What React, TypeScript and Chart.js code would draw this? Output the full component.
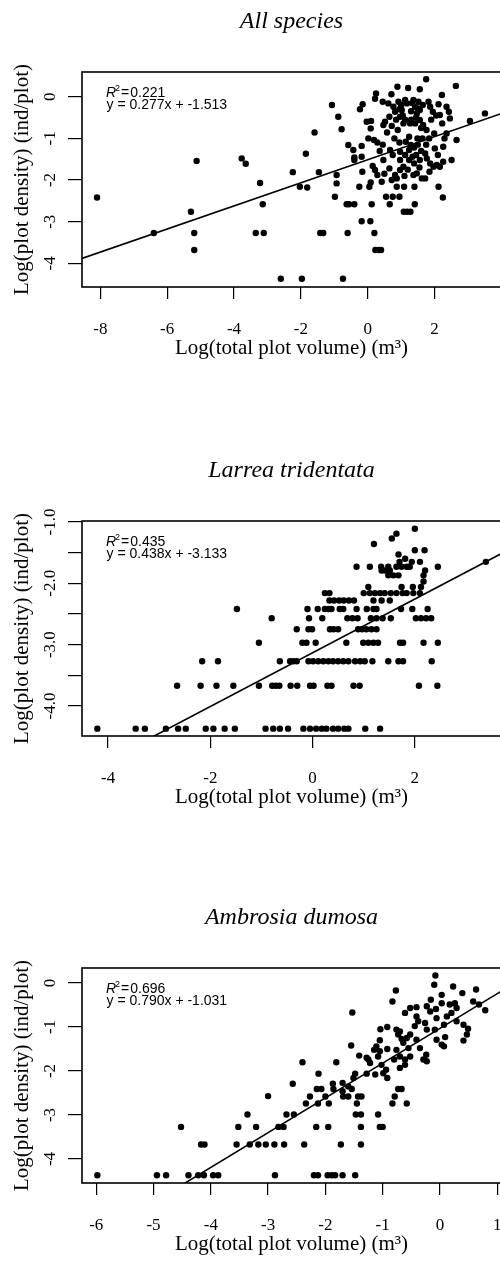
import React, { useEffect, useRef } from "react";
import { Chart, registerables } from "chart.js";

Chart.register(...registerables);

const SERIF = "'Liberation Serif', 'Times New Roman', Times, serif";
const SANS = "'Liberation Sans', Arial, Helvetica, sans-serif";

// ---------- DATA ----------
const panelTitles = ["All species", "Larrea tridentata", "Ambrosia dumosa"];
const xAxisTitle = "Log(total plot volume) (m\u00B3)";
const yAxisTitle = "Log(plot density) (ind/plot)";

const allSpeciesPoints: [number, number][] = [
  [-8.1, -2.42], [-6.4, -3.27], [-5.29, -2.76], [-5.19, -3.27], [-5.19, -3.68], [-5.12, -1.54],
  [-3.77, -1.48], [-3.65, -1.61], [-3.22, -2.07], [-3.14, -2.58], [-3.35, -3.27], [-3.11, -3.27],
  [-2.6, -4.37], [-2.24, -1.81], [-1.97, -4.37], [-1.42, -3.27], [-1.33, -3.27], [-0.74, -4.37],
  [-0.6, -3.27], [-0.18, -2.99], [0.08, -2.99], [0.2, -3.27], [0.23, -3.68], [0.33, -3.68], [0.4, -3.68],
  [1.08, -2.76], [1.18, -2.76], [1.28, -2.76],
  [1.75, 0.42], [0.89, 0.24], [1.21, 0.21], [1.56, 0.18], [2.64, 0.26], [0.25, 0.08], [0.22, -0.05],
  [0.71, 0.06], [0.45, -0.12], [-0.15, -0.18], [-0.23, -0.3], [-1.07, -0.2], [-0.88, -0.48], [-0.78, -0.78],
  [-1.59, -0.86], [-1.85, -1.37], [-1.46, -1.81], [-2.03, -2.16], [-1.81, -2.18], [-0.93, -1.88],
  [-0.93, -2.08], [-0.98, -2.4], [-0.58, -1.16], [-0.43, -1.28], [-0.4, -1.46], [-0.4, -1.52],
  [-0.18, -1.44], [-0.18, -1.18], [-0.16, -1.8], [-0.03, -0.6], [0.1, -0.58], [0.09, -0.76], [0.02, -1.0],
  [0.19, -1.04], [0.29, -1.1], [0.15, -1.66], [0.22, -1.76], [0.29, -1.88], [0.09, -2.06], [0.42, -2.04],
  [0.47, -1.52], [0.65, -1.72], [0.75, -1.4], [0.67, -1.28], [0.47, -0.68], [0.52, -0.6], [0.65, -0.48],
  [0.62, -0.16], [0.77, -0.24], [0.92, -0.12], [0.82, -0.36], [0.97, -0.48], [1.02, -0.32], [1.17, -0.16],
  [1.37, -0.08], [1.52, -0.12], [1.42, -0.24], [1.56, -0.32], [1.47, -0.4], [1.07, -0.64], [1.27, -0.64],
  [1.42, -0.64], [1.56, -0.56], [1.66, -0.68], [1.82, -0.12], [1.87, -0.24], [2.12, -0.18], [2.22, 0.04],
  [2.16, -0.44], [2.36, -0.24], [2.43, -0.36], [2.46, -0.52], [2.23, -0.64], [2.36, -0.88], [2.66, -1.04],
  [3.06, -0.58], [3.51, -0.4], [1.99, -0.88], [1.84, -1.0], [1.64, -1.0], [1.49, -1.0], [1.24, -0.96],
  [1.14, -1.08], [1.29, -1.16], [1.39, -1.22], [1.24, -1.28], [1.12, -1.4], [0.97, -1.32], [0.97, -1.52],
  [1.07, -1.68], [1.24, -1.52], [1.34, -1.44], [1.39, -1.6], [1.56, -1.52], [1.72, -1.36], [1.77, -1.48],
  [1.87, -1.6], [1.97, -1.68], [2.07, -1.64], [2.16, -1.68], [2.26, -1.56], [2.51, -1.52], [2.26, -1.2],
  [2.01, -1.24], [1.47, -1.84], [1.62, -1.96], [1.72, -1.96], [1.37, -1.88], [0.82, -1.88], [0.72, -2.0],
  [0.87, -1.96], [0.97, -1.76], [0.87, -2.16], [1.09, -2.16], [1.4, -2.16], [2.12, -2.16], [2.25, -2.42],
  [0.55, -2.4], [0.75, -2.4], [0.95, -2.4], [-0.63, -2.58], [-0.56, -2.58], [-0.4, -2.58], [0.12, -2.58],
  [0.66, -2.58], [1.41, -2.58], [0.05, -2.16], [-0.25, -2.16],
  [1.0, -0.2], [1.05, -0.45], [1.12, -0.55], [1.3, -0.55], [1.45, -0.5], [1.5, -0.28], [1.33, -0.15],
  [1.12, -0.08], [0.95, -0.3], [0.85, -0.55], [0.72, -0.7], [0.9, -0.8], [1.6, -0.75], [1.76, -0.8],
  [1.9, -0.55], [1.95, -0.36], [0.58, -0.86], [0.8, -1.0], [0.95, -1.1], [1.5, -1.15], [1.75, -1.15],
  [1.6, -1.3], [1.45, -1.4], [1.2, -1.75], [1.55, -1.7], [1.85, -1.8], [1.1, -1.9], [0.5, -1.85],
  [0.36, -1.3], [0.45, -1.15], [2.3, -1.0], [2.1, -1.4], [2.05, -0.45], [1.3, -0.35], [1.65, -0.2],
];

const larreaPoints: [number, number][] = [
  [-4.21, -4.37], [-3.46, -4.37], [-3.28, -4.37], [-2.87, -4.37], [-2.63, -4.37], [-2.48, -4.37],
  [-2.09, -4.37], [-1.94, -4.37], [-1.72, -4.37], [-1.52, -4.37], [-0.92, -4.37], [-0.77, -4.37],
  [-0.64, -4.37], [-0.48, -4.37], [-0.18, -4.37], [-0.05, -4.37], [0.07, -4.37], [0.18, -4.37],
  [0.27, -4.37], [0.4, -4.37], [0.5, -4.37], [0.62, -4.37], [0.7, -4.37], [1.03, -4.37], [1.32, -4.37],
  [-2.65, -3.67], [-2.19, -3.67], [-1.88, -3.67], [-1.55, -3.67], [-1.05, -3.67], [-0.79, -3.67],
  [-0.72, -3.67], [-0.65, -3.67], [-0.43, -3.67], [-0.3, -3.67], [-0.05, -3.67], [0.02, -3.67],
  [0.29, -3.67], [0.37, -3.67], [0.8, -3.67], [0.92, -3.67], [2.08, -3.67], [2.44, -3.67],
  [-2.16, -3.27], [-1.85, -3.27], [-0.64, -3.27], [-0.44, -3.27], [-0.38, -3.27], [-0.31, -3.27],
  [-0.08, -3.27], [0.01, -3.27], [0.11, -3.27], [0.21, -3.27], [0.31, -3.27], [0.4, -3.27], [0.5, -3.27],
  [0.6, -3.27], [0.7, -3.27], [0.83, -3.27], [0.93, -3.27], [1.02, -3.27], [1.17, -3.27], [1.48, -3.27],
  [1.68, -3.27], [1.77, -3.27], [2.33, -3.27],
  [-1.05, -2.97], [-0.2, -2.97], [-0.12, -2.97], [0.06, -2.97], [0.66, -2.97], [0.99, -2.97],
  [1.09, -2.97], [1.19, -2.97], [1.28, -2.97], [1.71, -2.97], [1.77, -2.97], [2.17, -2.97], [2.45, -2.97],
  [-0.31, -2.75], [-0.08, -2.75], [-0.01, -2.75], [0.34, -2.75], [0.41, -2.75], [0.5, -2.75],
  [0.89, -2.75], [0.97, -2.75], [1.05, -2.75], [1.15, -2.75], [1.25, -2.75],
  [-0.8, -2.57], [-0.07, -2.57], [0.19, -2.57], [0.68, -2.57], [0.78, -2.57], [0.88, -2.57],
  [1.14, -2.57], [1.25, -2.57], [1.37, -2.57], [1.53, -2.57], [2.02, -2.57], [2.12, -2.57],
  [2.22, -2.57], [2.32, -2.57],
  [-1.48, -2.42], [-0.1, -2.42], [0.1, -2.42], [0.24, -2.42], [0.31, -2.42], [0.37, -2.42], [0.53, -2.42],
  [0.6, -2.42], [0.86, -2.42], [1.06, -2.42], [1.19, -2.42], [1.25, -2.42], [1.73, -2.42], [1.95, -2.42],
  [2.25, -2.42],
  [0.33, -2.28], [0.42, -2.28], [0.52, -2.28], [0.61, -2.28], [0.71, -2.28], [0.81, -2.28], [1.19, -2.28],
  [1.35, -2.28], [1.51, -2.28],
  [0.24, -2.16], [0.33, -2.16], [1.0, -2.16], [1.12, -2.16], [1.22, -2.16], [1.32, -2.16], [1.41, -2.16],
  [1.53, -2.16], [1.64, -2.16], [1.76, -2.16], [1.84, -2.16], [1.97, -2.16], [2.1, -2.16],
  [1.09, -2.06], [1.74, -2.06], [1.96, -2.06], [2.12, -2.06], [2.17, -1.97],
  [1.48, -1.87], [1.58, -1.87], [1.68, -1.87], [2.17, -1.87],
  [1.35, -1.79], [1.42, -1.79], [1.51, -1.79], [2.2, -1.79],
  [0.86, -1.73], [1.12, -1.73], [1.34, -1.73], [1.48, -1.73], [1.64, -1.73], [1.74, -1.73], [1.84, -1.73],
  [1.9, -1.73], [2.45, -1.73],
  [1.7, -1.65], [1.94, -1.65], [2.1, -1.65], [3.39, -1.65], [1.81, -1.6], [1.68, -1.53],
  [2.0, -1.46], [2.19, -1.46], [1.2, -1.36], [1.55, -1.27], [1.64, -1.19], [2.0, -1.11],
];

const ambrosiaPoints: [number, number][] = [
  [-0.08, 0.17], [-0.1, -0.04], [0.23, -0.08], [0.63, -0.15], [0.39, -0.23], [0.03, -0.27], [-0.16, -0.38],
  [-0.77, -0.17], [-0.83, -0.42], [-1.53, -0.67], [0.58, -0.42], [0.68, -0.49], [0.79, -0.62], [0.03, -0.46],
  [0.17, -0.49], [0.26, -0.46], [0.29, -0.57], [0.2, -0.68], [0.12, -0.76], [-0.07, -0.59], [-0.17, -0.65],
  [-0.23, -0.53], [-0.06, -0.8], [0.07, -0.95], [-0.41, -0.55], [-0.52, -0.57], [-0.61, -0.68], [-0.41, -0.76],
  [-0.38, -0.87], [-0.44, -0.98], [-0.26, -0.91], [-0.23, -1.06], [-0.09, -1.06], [0.29, -0.87], [0.41, -0.95],
  [0.49, -1.04], [0.47, -1.17], [0.41, -1.31], [0.09, -1.23], [-0.06, -1.29], [0.03, -1.4], [0.07, -1.44],
  [-1.04, -1.05], [-0.92, -1.0], [-0.76, -1.06], [-0.73, -1.17], [-0.67, -1.27], [-0.58, -1.25], [-0.52, -1.17],
  [-0.7, -1.1], [-0.64, -1.36], [-0.55, -1.48], [-0.41, -1.29], [-0.35, -1.48], [-0.24, -1.63], [-0.29, -1.74],
  [-0.23, -1.78], [-1.05, -1.3], [-1.11, -1.44], [-1.15, -1.52], [-1.05, -1.55], [-1.08, -1.67], [-0.92, -1.5],
  [-0.76, -1.52], [-0.7, -1.67], [-0.61, -1.74], [-0.61, -1.86], [-0.7, -1.93], [-0.52, -1.67], [-0.8, -1.74],
  [-1.55, -1.42], [-1.41, -1.65], [-1.25, -1.74], [-1.22, -1.82], [-1.28, -1.7], [-1.81, -1.8], [-2.4, -1.8],
  [-1.02, -1.86], [-0.94, -1.97], [-0.99, -2.05], [-0.92, -2.16], [-1.13, -2.08], [-1.28, -2.06], [-1.48, -2.06],
  [-1.51, -2.16], [-1.7, -2.27], [-1.6, -2.35], [-1.87, -2.29], [-2.12, -2.06], [-2.07, -2.41], [-2.15, -2.41],
  [-1.54, -2.41], [-1.86, -2.41], [-1.7, -2.46], [-2.27, -2.58], [-2.0, -2.58], [-1.69, -2.58], [-1.6, -2.58],
  [-1.43, -2.58], [-1.37, -2.58], [-0.79, -2.58], [-0.73, -2.41], [-0.67, -2.41], [-3.0, -2.57], [-2.57, -2.29],
  [-5.98, -4.37], [-4.94, -4.37], [-4.78, -4.37], [-4.39, -4.37], [-4.22, -4.37], [-4.12, -4.37], [-3.96, -4.37],
  [-3.87, -4.37], [-2.88, -4.37], [-2.2, -4.37], [-2.13, -4.37], [-1.96, -4.37], [-1.89, -4.37], [-1.83, -4.37],
  [-1.7, -4.37], [-1.48, -4.37],
  [-4.17, -3.67], [-4.11, -3.67], [-3.55, -3.67], [-3.32, -3.67], [-3.17, -3.67], [-3.04, -3.67], [-2.89, -3.67],
  [-2.72, -3.67], [-2.37, -3.67], [-1.73, -3.67], [-1.38, -3.67],
  [-4.52, -3.27], [-3.52, -3.27], [-3.21, -3.27], [-2.82, -3.27], [-2.73, -3.27], [-2.16, -3.27], [-1.95, -3.27],
  [-1.38, -3.27], [-1.05, -3.27], [-1.0, -3.27],
  [-3.36, -2.99], [-2.68, -2.99], [-2.55, -2.99], [-1.47, -2.99], [-1.38, -2.99], [-1.08, -2.99],
  [-2.34, -2.74], [-2.13, -2.74], [-1.94, -2.74], [-1.45, -2.74], [-0.83, -2.74], [-0.58, -2.74],
];

const allSpeciesFit = { slope: 0.277, intercept: -1.513, r2: "0.221" };
const larreaFit = { slope: 0.438, intercept: -3.133, r2: "0.435" };
const ambrosiaFit = { slope: 0.79, intercept: -1.031, r2: "0.696" };

const allSpeciesXTicks = [-8, -6, -4, -2, 0, 2];
const allSpeciesYTicks = [0, -1, -2, -3, -4];
const allSpeciesYLabels = ["0", "-1", "-2", "-3", "-4"];
const larreaXTicks = [-4, -2, 0, 2];
const larreaYTicks = [-1.0, -1.5, -2.0, -2.5, -3.0, -3.5, -4.0];
const larreaYLabels = ["-1.0", "", "-2.0", "", "-3.0", "", "-4.0"];
const ambrosiaXTicks = [-6, -5, -4, -3, -2, -1, 0, 1];
const ambrosiaYTicks = [0, -1, -2, -3, -4];
const ambrosiaYLabels = ["0", "-1", "-2", "-3", "-4"];

// ---------- LAYOUT ----------
const CW = 510;
const CH = 448;
const AREA_TOP = 72;
const AREA_BOTTOM = 287;
const AREA_LEFT = 82;
const AREA_RIGHT = 501;
const X_SCALE_H = 74;

type PanelProps = {
  title: string;
  points: [number, number][];
  fit: { slope: number; intercept: number; r2: string };
  xTicks: number[];
  yTicks: number[];
  yLabels: string[];
  xRange: [number, number];
  yRange: [number, number];
  top: number;
};

function Panel(props: PanelProps) {
  const ref = useRef<HTMLCanvasElement | null>(null);
  useEffect(() => {
    const canvas = ref.current;
    if (!canvas) return;
    const { title, points, fit, xTicks, yTicks, yLabels, xRange, yRange } = props;
    const f = (x: number) => fit.slope * x + fit.intercept;

    const boxPlugin = {
      id: "boxFrame",
      afterDatasetsDraw(chart: any) {
        const { ctx, chartArea: a } = chart;
        ctx.save();
        ctx.strokeStyle = "#000";
        ctx.lineWidth = 1.6;
        ctx.strokeRect(a.left, a.top, a.right - a.left, a.bottom - a.top);
        ctx.restore();
      },
    };

    const yLabelPlugin = {
      id: "yRotLabels",
      afterDraw(chart: any) {
        const s = chart.scales.y;
        const ctx = chart.ctx;
        const cx = chart.chartArea.left - 31.5;
        ctx.save();
        ctx.fillStyle = "#000";
        ctx.font = `17px ${SERIF}`;
        ctx.textAlign = "center";
        ctx.textBaseline = "middle";
        yTicks.forEach((v, i) => {
          const lab = yLabels[i];
          if (!lab) return;
          const py = s.getPixelForValue(v);
          ctx.save();
          ctx.translate(cx, py);
          ctx.rotate(-Math.PI / 2);
          ctx.fillText(lab, 0, 0);
          ctx.restore();
        });
        ctx.restore();
      },
    };

    const annotationPlugin = {
      id: "fitText",
      afterDraw(chart: any) {
        const { ctx, chartArea: a } = chart;
        ctx.save();
        ctx.fillStyle = "#000";
        ctx.textAlign = "left";
        ctx.textBaseline = "alphabetic";
        let x = a.left + 24;
        const b1 = a.top + 24.5;
        ctx.font = `italic 14px ${SANS}`;
        ctx.fillText("R", x, b1);
        x += ctx.measureText("R").width - 1;
        ctx.font = `9px ${SANS}`;
        ctx.fillText("2", x, b1 - 5.5);
        x += ctx.measureText("2").width + 1;
        ctx.font = `14px ${SANS}`;
        ctx.fillText("=", x, b1);
        x += ctx.measureText("=").width + 1;
        ctx.fillText(fit.r2, x, b1);
        const eq = `y = ${fit.slope.toFixed(3)}x + ${fit.intercept.toFixed(3)}`;
        ctx.fillText(eq, a.left + 24.5, a.top + 37);
        ctx.restore();
      },
    };

    const chart = new Chart(canvas, {
      type: "scatter",
      data: {
        datasets: [
          {
            type: "line",
            data: [
              { x: xRange[0], y: f(xRange[0]) },
              { x: xRange[1], y: f(xRange[1]) },
            ],
            borderColor: "#000",
            borderWidth: 1.6,
            pointRadius: 0,
            fill: false,
            tension: 0,
            order: 0,
          } as any,
          {
            type: "scatter",
            data: points.map(([x, y]) => ({ x, y })),
            pointRadius: 3.2,
            pointBackgroundColor: "#000",
            pointBorderWidth: 0,
            pointBorderColor: "#000",
            showLine: false,
            order: 1,
          } as any,
        ],
      },
      options: {
        animation: false,
        responsive: false,
        events: [],
        layout: {
          padding: { left: 0, right: CW - AREA_RIGHT, top: 0, bottom: CH - AREA_BOTTOM - X_SCALE_H },
        },
        plugins: {
          legend: { display: false },
          tooltip: { enabled: false },
          title: {
            display: true,
            text: title,
            fullSize: false,
            color: "#000",
            font: { family: SERIF, size: 24, style: "italic", weight: "normal" },
            padding: { top: 7.6, bottom: AREA_TOP - 28.8 - 7.6 },
          },
        },
        scales: {
          x: {
            type: "linear",
            position: "bottom",
            min: xRange[0],
            max: xRange[1],
            afterBuildTicks: (s: any) => {
              s.ticks = xTicks.map((v) => ({ value: v }));
            },
            afterFit: (s: any) => {
              s.height = X_SCALE_H;
              s.paddingLeft = 0;
              s.paddingRight = 0;
            },
            ticks: {
              color: "#000",
              font: { family: SERIF, size: 17 },
              padding: 20,
              maxRotation: 0,
              minRotation: 0,
              autoSkip: false,
              callback: (v: any) => String(v),
            },
            grid: {
              display: true,
              drawOnChartArea: false,
              drawTicks: true,
              tickLength: 12,
              color: "#000",
              lineWidth: 1.2,
            },
            border: { display: false },
            title: {
              display: true,
              text: xAxisTitle,
              color: "#000",
              font: { family: SERIF, size: 21 },
              padding: { top: 0, bottom: 0 },
            },
          },
          y: {
            type: "linear",
            position: "left",
            min: yRange[0],
            max: yRange[1],
            afterBuildTicks: (s: any) => {
              s.ticks = yTicks.map((v) => ({ value: v }));
            },
            afterFit: (s: any) => {
              s.width = AREA_LEFT;
              s.paddingTop = 0;
              s.paddingBottom = 0;
            },
            ticks: { display: false },
            grid: {
              display: true,
              drawOnChartArea: false,
              drawTicks: true,
              tickLength: 14,
              color: "#000",
              lineWidth: 1.2,
            },
            border: { display: false },
            title: {
              display: true,
              text: yAxisTitle,
              color: "#000",
              font: { family: SERIF, size: 21 },
              padding: { top: 9.4, bottom: 0 },
            },
          },
        },
      } as any,
      plugins: [boxPlugin, yLabelPlugin, annotationPlugin],
    });
    return () => chart.destroy();
  }, []);

  return (
    <div style={{ position: "absolute", left: 0, top: props.top, width: CW, height: CH }}>
      <canvas ref={ref} width={CW} height={CH} style={{ display: "block", width: CW, height: CH }} />
    </div>
  );
}

export default function App() {
  return (
    <div
      style={{
        position: "absolute",
        left: 0,
        top: 0,
        width: 500,
        height: 1261,
        overflow: "hidden",
        background: "#fff",
      }}
    >
      <Panel
        title={panelTitles[0]}
        points={allSpeciesPoints}
        fit={allSpeciesFit}
        xTicks={allSpeciesXTicks}
        yTicks={allSpeciesYTicks}
        yLabels={allSpeciesYLabels}
        xRange={[-8.55, 3.99]}
        yRange={[-4.567, 0.593]}
        top={0}
      />
      <Panel
        title={panelTitles[1]}
        points={larreaPoints}
        fit={larreaFit}
        xTicks={larreaXTicks}
        yTicks={larreaYTicks}
        yLabels={larreaYLabels}
        xRange={[-4.51, 3.685]}
        yRange={[-4.49, -0.984]}
        top={449}
      />
      <Panel
        title={panelTitles[2]}
        points={ambrosiaPoints}
        fit={ambrosiaFit}
        xTicks={ambrosiaXTicks}
        yTicks={ambrosiaYTicks}
        yLabels={ambrosiaYLabels}
        xRange={[-6.248, 1.065]}
        yRange={[-4.545, 0.34]}
        top={896}
      />
    </div>
  );
}
